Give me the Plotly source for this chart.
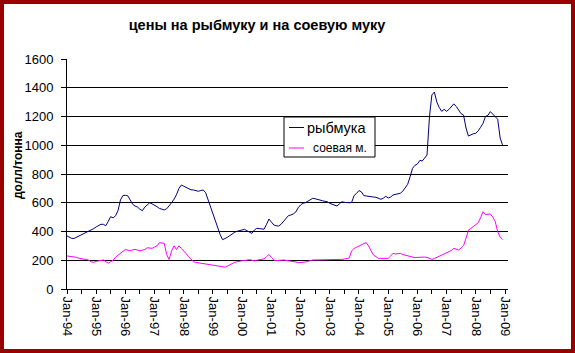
import pandas as pd
import plotly.graph_objects as go

months = pd.date_range("1994-01-01", periods=180, freq="MS")

fishmeal = [
    # 1994
    369, 362, 352, 352, 360, 368, 376, 383, 390, 400, 410, 420,
    # 1995
    432, 442, 450, 450, 440, 470, 503, 495, 510, 545, 620, 650,
    # 1996
    652, 648, 615, 590, 577, 570, 555, 545, 570, 585, 600, 592,
    # 1997
    584, 572, 561, 555, 550, 558, 575, 600, 625, 655, 700, 723,
    # 1998
    715, 705, 695, 690, 689, 685, 680, 685, 689, 670, 620, 565,
    # 1999
    520, 470, 420, 378, 343, 350, 360, 372, 385, 395, 402, 408,
    # 2000
    412, 415, 405, 395, 387, 410, 422, 420, 418, 416, 450, 487,
    # 2001
    465, 445, 440, 438, 450, 468, 490, 510, 515, 522, 535, 565,
    # 2002
    585, 597, 600, 610, 620, 631, 628, 622, 619, 614, 610, 607,
    # 2003
    596, 588, 580, 577, 592, 607, 603, 600, 600, 602, 650, 665,
    # 2004
    685, 675, 650, 647, 643, 642, 640, 638, 630, 624, 632, 645,
    # 2005
    633, 640, 654, 658, 662, 666, 680, 702, 728, 780, 840, 860,
    # 2006
    870, 895, 890, 910, 932, 1200, 1350, 1370, 1300, 1262, 1236, 1250,
    # 2007
    1236, 1250, 1268, 1288, 1270, 1240, 1220, 1210, 1120, 1064, 1075, 1080,
    # 2008
    1083, 1100, 1125, 1153, 1200, 1208, 1234, 1215, 1199, 1181, 1050, 1002,
]

soymeal = [
    # 1994
    230, 228, 226, 225, 220, 214, 209, 207, 206, 200, 188, 186,
    # 1995
    192, 195, 200, 202, 190, 180, 190, 200, 222, 235, 248, 262,
    # 1996
    275, 270, 266, 272, 276, 270, 266, 270, 275, 287, 285, 283,
    # 1997
    292, 301, 322, 320, 318, 240, 205, 265, 300, 275, 300, 282,
    # 1998
    265, 245, 225, 205, 190, 185, 182, 178, 175, 174, 172, 170,
    # 1999
    165, 160, 156, 153, 151, 152, 160, 170, 182, 186, 190, 195,
    # 2000
    197, 198, 202, 204, 200, 195, 200, 205, 208, 210, 225, 240,
    # 2001
    220, 200, 198, 197, 200, 202, 200, 197, 195, 195, 188, 183,
    # 2002
    183, 183, 188, 192, 198, 202, 202, 202, 202, 202, 202, 202,
    # 2003
    202, 202, 202, 204, 206, 206, 209, 212, 215, 265, 282, 290,
    # 2004
    300, 306, 316, 322, 299, 265, 236, 225, 213, 213, 213, 213,
    # 2005
    213, 230, 248, 243, 245, 248, 240, 235, 230, 226, 222, 218,
    # 2006
    220, 222, 225, 222, 220, 215, 206, 212, 220, 228, 240, 248,
    # 2007
    255, 259, 268, 283, 278, 271, 285, 301, 353, 410, 422, 433,
    # 2008
    450, 461, 496, 538, 518, 520, 522, 500, 468, 399, 360, 345,
]

title_text = "цены на рыбмуку и на соевую муку"
y_title = "долл/тонна"
name_fish = "рыбмука"
name_soy = "соевая м."

FISH_COLOR = "#000080"
SOY_COLOR = "#FF00FF"

FONT = "Liberation Sans, Arial, sans-serif"
W, H = 575, 353
L, R, T, B = 67, 67, 59, 64
PW = W - L - R
PH = H - T - B

def px_x(p):
    return (p - L) / PW

def px_y(p):
    return (H - B - p) / PH

fig = go.Figure()
fig.add_trace(go.Scatter(x=months, y=fishmeal, mode="lines", name=name_fish,
                         line=dict(color=FISH_COLOR, width=1)))
fig.add_trace(go.Scatter(x=months, y=soymeal, mode="lines", name=name_soy,
                         line=dict(color=SOY_COLOR, width=1)))

# manual legend (box, line samples, labels)
legend_shapes = [
    dict(type="rect", xref="paper", yref="paper",
         x0=px_x(284), x1=px_x(375), y0=px_y(157), y1=px_y(117),
         fillcolor="white", line=dict(color="black", width=1), layer="above"),
    dict(type="line", xref="paper", yref="paper",
         x0=px_x(289), x1=px_x(304), y0=px_y(127.5), y1=px_y(127.5),
         line=dict(color=FISH_COLOR, width=1), layer="above"),
    dict(type="line", xref="paper", yref="paper",
         x0=px_x(289), x1=px_x(304), y0=px_y(148), y1=px_y(148),
         line=dict(color=SOY_COLOR, width=1), layer="above"),
]
legend_ann = [
    dict(text=name_fish, x=px_x(305), y=px_y(128), xref="paper", yref="paper",
         showarrow=False, xanchor="left", yanchor="middle",
         font=dict(family=FONT, size=14.5, color="black")),
    dict(text=name_soy, x=px_x(311), y=px_y(148), xref="paper", yref="paper",
         showarrow=False, xanchor="left", yanchor="middle",
         font=dict(family=FONT, size=12, color="black")),
]

fig.update_layout(
    width=W, height=H,
    margin=dict(l=L, r=R, t=T, b=B, pad=0),
    paper_bgcolor="white", plot_bgcolor="white",
    font=dict(family=FONT, size=13, color="black"),
    title=dict(text=title_text, x=257 / W, y=1 - 25 / H, xref="container", yref="container",
               xanchor="center", yanchor="middle",
               font=dict(family=FONT, size=14.5, color="black", weight="bold")),
    showlegend=False,
    xaxis=dict(
        type="date",
        range=["1994-01-01", "2009-02-07"],
        tick0="1994-01-01", dtick="M12", tickformat="%b-%y",
        tickangle=90, ticks="outside", ticklen=4, tickwidth=1, tickcolor="black",
        minor=dict(dtick="M6", ticks="outside", ticklen=4, tickwidth=1, tickcolor="black", showgrid=False),
        showgrid=False, showline=True, linecolor="black", linewidth=1,
        zeroline=False, tickfont=dict(family=FONT, size=13),
    ),
    yaxis=dict(
        range=[0, 1600], dtick=200, tick0=0,
        ticks="outside", ticklen=5, tickwidth=1, tickcolor="black",
        showgrid=True, gridcolor="black", gridwidth=1,
        showline=True, linecolor="black", linewidth=1,
        zeroline=False, ticklabelstandoff=5, tickfont=dict(family=FONT, size=13),
    ),
    annotations=[dict(text="<b>" + y_title + "</b>", x=px_x(18), y=px_y(165),
                      xref="paper", yref="paper", textangle=-90, showarrow=False,
                      xanchor="center", yanchor="middle",
                      font=dict(family=FONT, size=12, color="black"))] + legend_ann,
    shapes=legend_shapes + [dict(type="rect", xref="paper", yref="paper",
                 x0=px_x(2), x1=px_x(W - 2), y0=px_y(H - 2), y1=px_y(2),
                 line=dict(color="#990000", width=4), layer="above")],
)

fig.write_html("out.html")
